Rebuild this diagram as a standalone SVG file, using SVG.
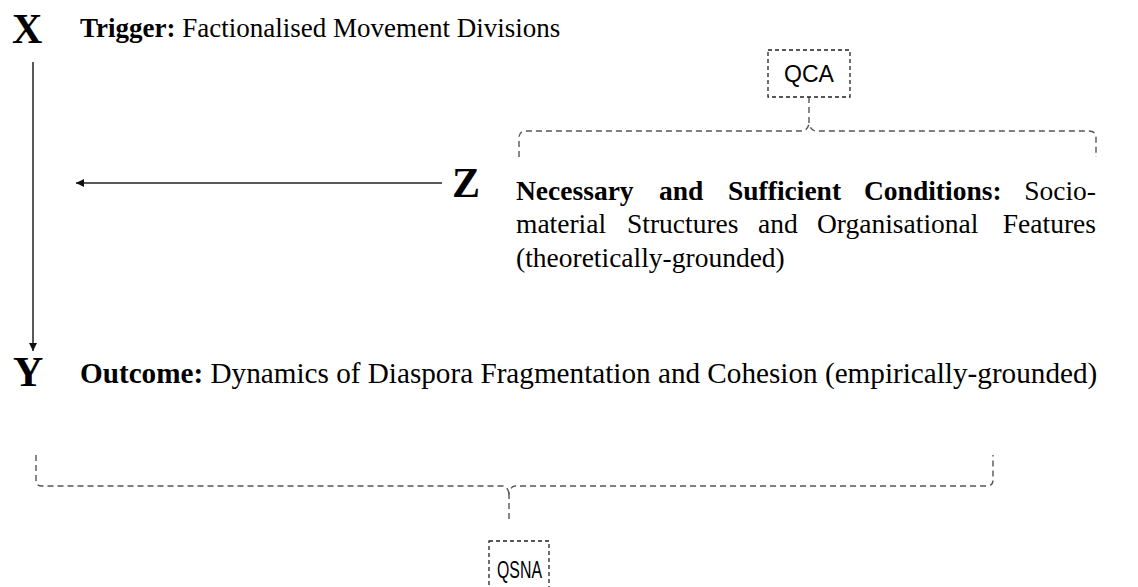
<svg xmlns="http://www.w3.org/2000/svg" width="1138" height="587" viewBox="0 0 1138 587">
<style>
.big{font-family:"Liberation Serif","Times New Roman",serif;font-weight:bold;font-size:42px;fill:#000}
.t{font-family:"Liberation Serif","Times New Roman",serif;font-size:27.5px;fill:#000}
.b{font-weight:bold}
.lbl{font-family:"Liberation Sans",Arial,sans-serif;font-size:24px;fill:#000}
.arrow{stroke:#222;stroke-width:1.5;fill:none}
.brace{stroke:#555;stroke-width:1.4;fill:none;stroke-dasharray:6 4}
.box{stroke:#222;stroke-width:1.3;fill:none;stroke-dasharray:4 3}
</style>
<defs>
<marker id="ah" viewBox="0 0 10 10" refX="10" refY="5" markerWidth="8" markerHeight="8" markerUnits="userSpaceOnUse" orient="auto">
<path d="M0,0 L10,5 L0,10 z" fill="#111"/>
</marker>
</defs>
<rect width="1138" height="587" fill="#fff"/>
<g id="connectors">
<line class="arrow" x1="33" y1="62" x2="33" y2="351" marker-end="url(#ah)"/>
<line class="arrow" x1="442" y1="183" x2="76" y2="183" marker-end="url(#ah)"/>
<path class="brace" d="M809,97 L809,123"/>
<path class="brace" d="M519,157 L519,138 Q519,131 526,131 L802,131 Q807,131 809,124 Q811,131 816,131 L1089,131 Q1096,131 1096,138 L1096,157"/>
<path class="brace" d="M36,455 L36,480 Q36,486 42,486 L503,486 Q507,486 509,493 Q511,486 515,486 L987,486 Q993,486 993,480 L993,455"/>
<path class="brace" d="M509,493 L509,522"/>
</g>
<g id="node-x">
<text class="big" x="12" y="43">X</text>
<text class="t" x="80" y="37" style="font-size:27px"><tspan class="b">Trigger:</tspan> Factionalised Movement Divisions</text>
</g>
<g id="node-z">
<text class="big" x="452" y="197">Z</text>
<text class="t" y="200"><tspan class="b" x="516">Necessary</tspan><tspan class="b" x="659">and</tspan><tspan class="b" x="728">Sufficient</tspan><tspan class="b" x="864">Conditions:</tspan><tspan x="1096" text-anchor="end">Socio-</tspan></text>
<text class="t" y="233"><tspan x="516">material</tspan><tspan x="627">Structures</tspan><tspan x="758">and</tspan><tspan x="817">Organisational</tspan><tspan x="1096" text-anchor="end">Features</tspan></text>
<text class="t" x="516" y="267">(theoretically-grounded)</text>
</g>
<g id="node-y">
<text class="big" x="13" y="386">Y</text>
<text class="t" x="80" y="383" style="font-size:29.2px"><tspan class="b">Outcome:</tspan> Dynamics of Diaspora Fragmentation and Cohesion (empirically-grounded)</text>
</g>
<g id="node-qca">
<rect class="box" x="768" y="50" width="82" height="47"/>
<text class="lbl" x="784" y="82" textLength="50" lengthAdjust="spacingAndGlyphs">QCA</text>
</g>
<g id="node-qsna">
<rect class="box" x="489" y="541" width="60" height="60"/>
<text class="lbl" x="497" y="578" textLength="45" lengthAdjust="spacingAndGlyphs">QSNA</text>
</g>
</svg>
